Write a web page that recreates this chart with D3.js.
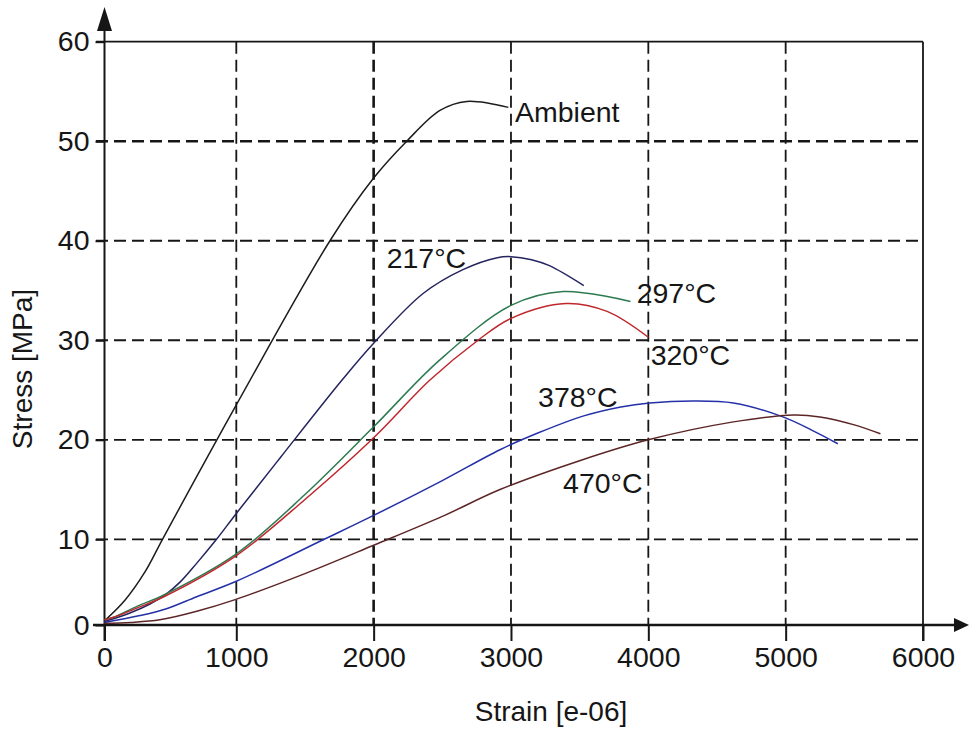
<!DOCTYPE html>
<html>
<head>
<meta charset="utf-8">
<script src="https://cdn.jsdelivr.net/npm/d3@7"></script>
<style>
  html, body { margin: 0; padding: 0; background: #fff; }
  svg { display: block; font-family: "Liberation Sans", Arial, sans-serif; }
</style>
</head>
<body>
<svg id="chart" width="969" height="730"></svg>
<script>
// Axis ticks
const xTicks = [0, 1000, 2000, 3000, 4000, 5000, 6000];
const yTicks = [0, 10, 20, 30, 40, 50, 60];

// Stress–strain curves: [strain (e-06), stress (MPa)]
const ambient = [[0,0.5],[155,2.9],[307,6.2],[440,10],[1000,23.5],[1682,40],[2000,46.3],[2241,50],[2483,53.1],[2678,54.0],[2981,53.4]];
const t217 = [[0,0.4],[193,1.4],[345,2.45],[459,3.5],[573,5.0],[702,7.25],[850,10],[1000,12.6],[1320,18.2],[1770,26],[2000,29.7],[2360,34.7],[2650,37.1],[2900,38.3],[3000,38.4],[3150,38.1],[3280,37.5],[3530,35.5]];
const t297 = [[0,0.6],[70,0.9],[250,2.2],[450,3.5],[1000,8.3],[1500,14.5],[2000,21.3],[2480,28.0],[3000,33.5],[3380,34.9],[3870,33.9]];
const t320 = [[0,0.6],[70,0.9],[250,2.0],[450,3.3],[1000,8.1],[1500,14.0],[2000,20.2],[2410,26],[2760,30],[3000,32.2],[3400,33.7],[3700,32.9],[4000,30.3]];
const t378 = [[0,0.3],[270,1.1],[470,1.9],[700,3.3],[1000,5.1],[1640,10],[2000,12.4],[2500,15.9],[2920,19],[3200,20.7],[3530,22.4],[3800,23.3],[4010,23.7],[4330,23.9],[4620,23.7],[4980,22.3],[5200,20.9],[5380,19.6]];
const t470 = [[0,0.2],[200,0.3],[420,0.6],[700,1.6],[980,2.9],[1500,6.0],[2000,9.3],[2500,12.3],[2920,15],[3500,17.9],[4000,20],[4620,21.8],[5060,22.5],[5250,22.3],[5500,21.5],[5690,20.6]];

const seriesNames = ["Ambient", "217°C", "297°C", "320°C", "378°C", "470°C"];
const seriesData = [ambient, t217, t297, t320, t378, t470];
const seriesColors = ["#1c1c1c", "#24245e", "#2d7a50", "#c0272d", "#2330a8", "#5c2626"];
// Where each curve label sits, in strain / stress units (text baseline, left edge)
const labelAnchors = [[3029,51.9],[2095,37.3],[3915,33.7],[4017,27.5],[3197,23.3],[3379,14.65]];

const svg = d3.select("#chart");
svg.append("rect").attr("width", 969).attr("height", 730).attr("fill", "#fff");

const x = d3.scaleLinear().domain([0, 1000, 6000]).range([104.5, 236.3, 923]);
const y = d3.scaleLinear().domain([0, 10, 60]).range([625, 539.3, 41.7]);

const ink = "#161616";
const dash = "12,6";
const boldX = new Set([2000]);
const boldY = new Set([50]);

// Dashed grid
const grid = svg.append("g");
grid.selectAll("line.v").data(xTicks.filter(d => d > 0 && d < 6000)).join("line")
  .attr("x1", d => x(d)).attr("x2", d => x(d))
  .attr("y1", y(60)).attr("y2", y(0))
  .attr("stroke", ink).attr("stroke-dasharray", dash)
  .attr("stroke-width", d => boldX.has(d) ? 2.6 : 1.8);
grid.selectAll("line.h").data(yTicks.filter(d => d > 0 && d < 60)).join("line")
  .attr("x1", 96).attr("x2", x(6000))
  .attr("y1", d => y(d)).attr("y2", d => y(d))
  .attr("stroke", ink).attr("stroke-dasharray", dash)
  .attr("stroke-width", d => boldY.has(d) ? 2.6 : 1.8);

// Solid frame on top and right
svg.append("line").attr("x1", 96).attr("x2", x(6000)).attr("y1", y(60)).attr("y2", y(60))
  .attr("stroke", ink).attr("stroke-width", 1.8);
svg.append("line").attr("x1", x(6000)).attr("x2", x(6000)).attr("y1", y(60)).attr("y2", 641)
  .attr("stroke", ink).attr("stroke-width", 1.8);

// Axes with tick labels
const xAxis = svg.append("g").attr("transform", `translate(0,${y(0)})`)
  .call(d3.axisBottom(x).tickValues(xTicks).tickSize(16).tickPadding(6).tickFormat(d3.format("d")));
const yAxis = svg.append("g").attr("transform", `translate(${x(0)},0)`)
  .call(d3.axisLeft(y).tickValues(yTicks).tickSize(9).tickPadding(6).tickFormat(d3.format("d")));
[xAxis, yAxis].forEach(a => {
  a.select(".domain").remove();
  a.selectAll(".tick line").attr("stroke", ink).attr("stroke-width", 2);
  a.selectAll(".tick text").attr("fill", ink).style("font-size", "28.5px")
    .style("font-family", '"Liberation Sans", Arial, sans-serif');
});

// Axis lines with arrow heads
svg.append("line").attr("x1", 93).attr("x2", 956).attr("y1", y(0)).attr("y2", y(0))
  .attr("stroke", ink).attr("stroke-width", 2.6);
svg.append("path").attr("d", `M969,${y(0)} L954,${y(0) - 7} L954,${y(0) + 7} Z`).attr("fill", ink);
svg.append("line").attr("x1", x(0)).attr("x2", x(0)).attr("y1", 28).attr("y2", 641)
  .attr("stroke", ink).attr("stroke-width", 2);
svg.append("path").attr("d", `M${x(0)},7 L${x(0) - 7.5},31 L${x(0) + 7.5},31 Z`).attr("fill", ink);

// Curves
const line = d3.line().x(d => x(d[0])).y(d => y(d[1])).curve(d3.curveCatmullRom.alpha(0.5));
svg.append("g").selectAll("path").data(seriesData).join("path")
  .attr("d", line).attr("fill", "none")
  .attr("stroke", (d, i) => seriesColors[i]).attr("stroke-width", 1.5);

// Curve labels
svg.append("g").selectAll("text").data(seriesNames).join("text")
  .attr("x", (d, i) => x(labelAnchors[i][0]))
  .attr("y", (d, i) => y(labelAnchors[i][1]))
  .attr("fill", ink).style("font-size", "28.5px").text(d => d);

// Axis titles
svg.append("text").attr("x", 551).attr("y", 721).attr("text-anchor", "middle")
  .attr("fill", ink).style("font-size", "28px").text("Strain [e-06]");
svg.append("text").attr("transform", "translate(32,369) rotate(-90)").attr("text-anchor", "middle")
  .attr("fill", ink).style("font-size", "28px").text("Stress [MPa]");
</script>
</body>
</html>
